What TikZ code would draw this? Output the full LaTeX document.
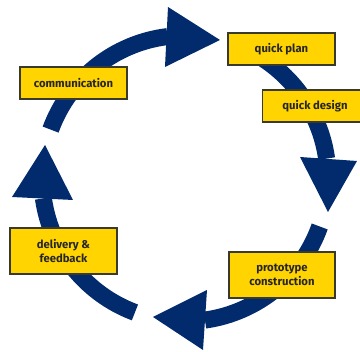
\documentclass[tikz,border=0pt]{standalone}
\usepackage{fontspec}
\setmainfont{Fira Sans}
\definecolor{navy}{HTML}{022B6D}
\definecolor{gold}{HTML}{FFD400}
\definecolor{boxline}{HTML}{3A3A2A}
\begin{document}
\begin{tikzpicture}[x=1pt,y=1pt,
  band/.style={navy,line width=17pt},
  head/.style={fill=navy,draw=none},
  lbl/.style={draw=boxline,line width=1.1pt,fill=gold,text=black!85,
    font=\fontsize{11.3}{14}\selectfont\bfseries,align=center,inner sep=0pt}]
\clip (0,0) rectangle (360,-352);
\useasboundingbox (0,0) rectangle (360,-352);
\coordinate (c) at (185,-178.5);
% arcs
\draw[band] (c) ++(160:143) arc (160:97:143);
\draw[band] (c) ++(58:143) arc (58:8:143);
\draw[band] (c) ++(-19.6:143) arc (-19.6:-82:143);
\draw[band] (c) ++(-110.5:143) arc (-110.5:-172:143);
% arrowheads
\fill[head] (168,-7) -- (220,-40) -- (165,-67) -- cycle;
\fill[head] (300,-157) -- (357,-161) -- (328,-212) -- cycle;
\fill[head] (207,-290) -- (153,-317) -- (203,-350) -- cycle;
\fill[head] (12,-197) -- (45,-145) -- (73,-200) -- cycle;
% boxes
\node[lbl,minimum width=107pt,minimum height=32pt] (plan) at (281.5,-49) {quick plan};
\node[lbl,minimum width=110pt,minimum height=32pt,anchor=west] (design) at (262,-106) {};
\node[lbl,draw=none,fill=none] (designtxt) at (315,-106) {quick design};
\node[lbl,minimum width=107pt,minimum height=32pt] (comm) at (73.5,-83) {communication};
\node[lbl,minimum width=107pt,minimum height=46pt] (deliv) at (63.5,-251) {delivery \&\\feedback};
\node[lbl,minimum width=106pt,minimum height=46pt] (proto) at (282,-275) {prototype\\construction};
\end{tikzpicture}
\end{document}
